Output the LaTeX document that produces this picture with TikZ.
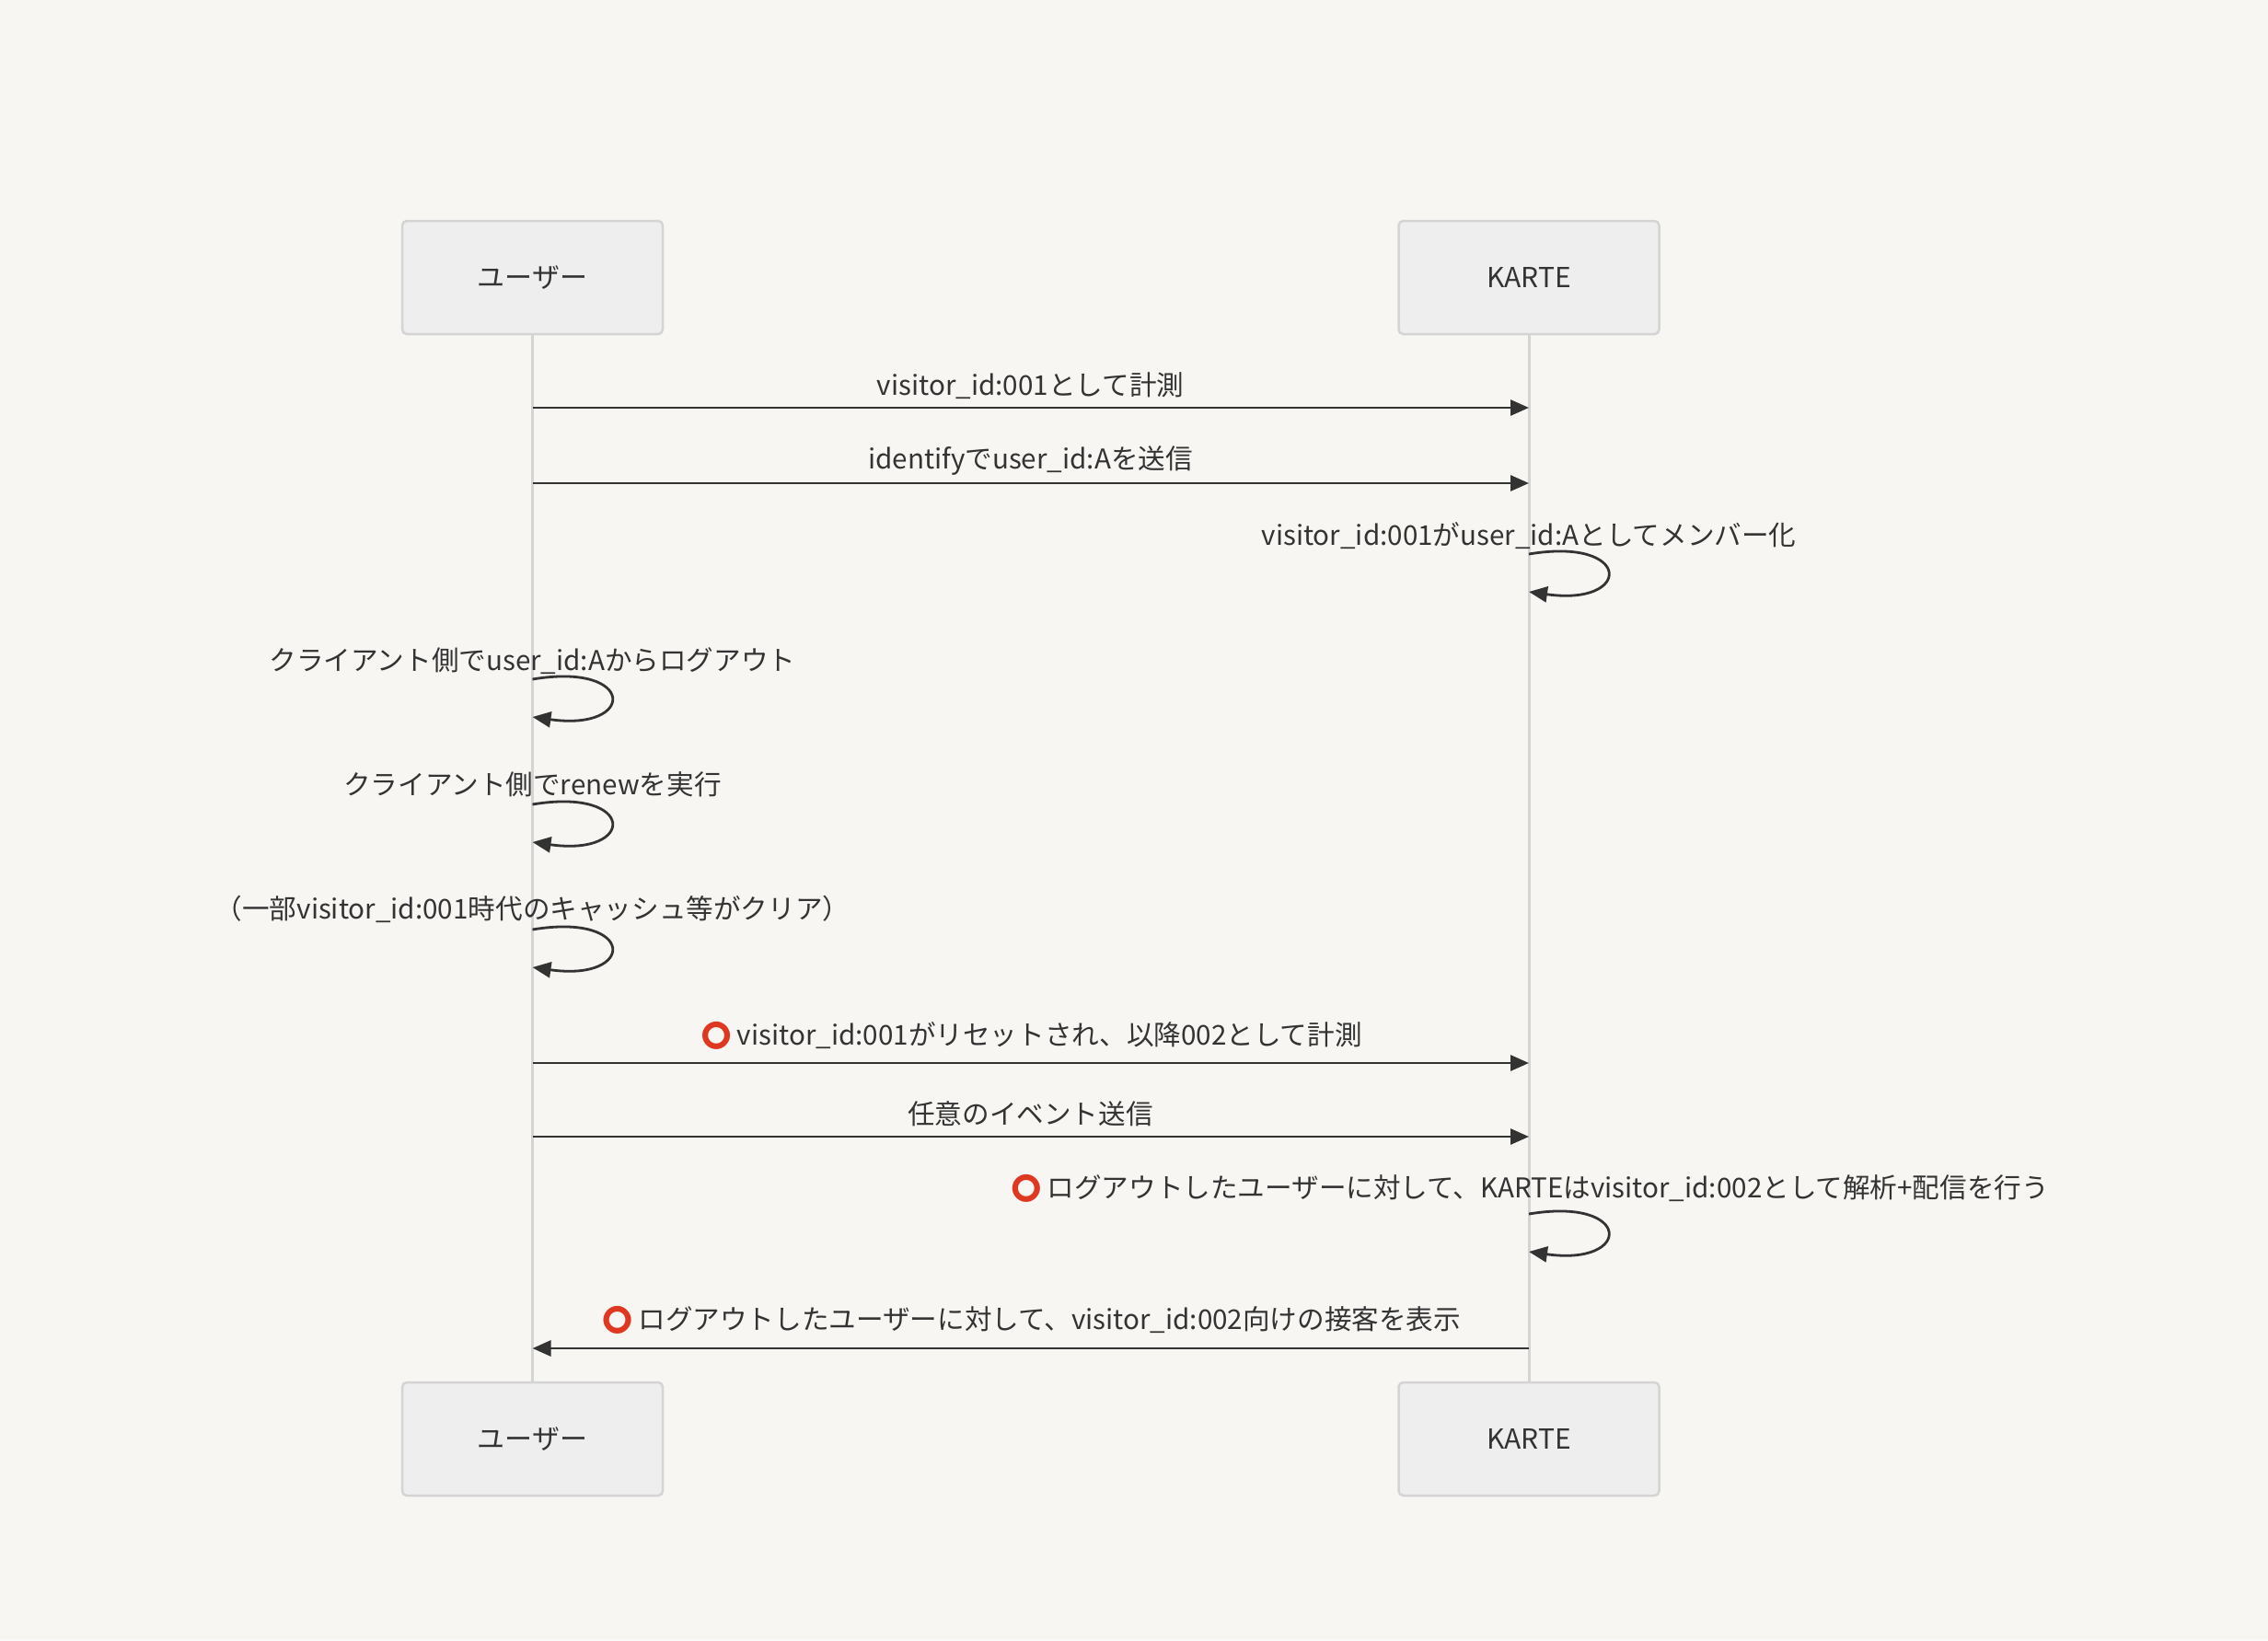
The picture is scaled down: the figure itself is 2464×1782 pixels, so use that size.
\documentclass[tikz,border=0pt]{standalone}
\usepackage{fontspec}
\setmainfont{Noto Sans CJK JP}
\newfontfamily\emojifont{Noto Emoji}
\usetikzlibrary{arrows.meta}
\definecolor{bgc}{HTML}{F7F6F3}
\definecolor{boxfill}{HTML}{EEEEEE}
\definecolor{boxline}{HTML}{D4D4D4}
\definecolor{ink}{HTML}{333333}
\definecolor{ringred}{RGB}{222,56,33}
\newcommand{\ring}{{\emojifont\color{ringred}⭕}\hspace{4pt}}
\newcommand{\actortext}[1]{\raisebox{-3pt}{#1}}
\tikzset{
  actor/.style={draw=boxline, fill=boxfill, line width=2.5pt, rounded corners=5pt,
    minimum width=283pt, minimum height=123pt, text=ink, font=\fontsize{30}{36}\selectfont},
  lifeline/.style={draw=boxline, line width=3pt},
  msg/.style={draw=ink, line width=2.8pt, -{Triangle[length=20pt,width=17pt]}},
  lbl/.style={text=ink, font=\fontsize{29.6}{36}\selectfont, inner sep=0pt, anchor=base}
}
\begin{document}
\begin{tikzpicture}[x=1pt,y=-1pt]
\fill[bgc] (0,0) rectangle (2464,1782);
\useasboundingbox (0,0) rectangle (2464,1782);
% actors
\node[actor] (u1) at (578.5,301.5) {\actortext{ユーザー}};
\node[actor] (k1) at (1661,301.5) {\actortext{KARTE}};
\node[actor] (u2) at (578.5,1563.5) {\actortext{ユーザー}};
\node[actor] (k2) at (1661,1563.5) {\actortext{KARTE}};
\draw[lifeline] (u1.south) -- (u2.north);
\draw[lifeline] (k1.south) -- (k2.north);
% endpoints
\coordinate (a1) at (578.5,443);  \coordinate (b1) at (1661,443);
\coordinate (a2) at (578.5,525);  \coordinate (b2) at (1661,525);
\coordinate (c3) at (1661,602);   \coordinate (d3) at (1661,643);
\coordinate (c4) at (578.5,738);  \coordinate (d4) at (578.5,779);
\coordinate (c5) at (578.5,874);  \coordinate (d5) at (578.5,915);
\coordinate (c6) at (578.5,1010); \coordinate (d6) at (578.5,1051);
\coordinate (a7) at (578.5,1155); \coordinate (b7) at (1661,1155);
\coordinate (a8) at (578.5,1235); \coordinate (b8) at (1661,1235);
\coordinate (c9) at (1661,1319);  \coordinate (d9) at (1661,1360);
\coordinate (a10) at (578.5,1465); \coordinate (b10) at (1661,1465);
% messages
\draw[msg] (a1) -- (b1);
\draw[msg] (a2) -- (b2);
\draw[msg] (c3) .. controls +(113,-19) and +(113,16) .. (d3);
\draw[msg] (c4) .. controls +(113,-19) and +(113,16) .. (d4);
\draw[msg] (c5) .. controls +(113,-19) and +(113,16) .. (d5);
\draw[msg] (c6) .. controls +(113,-19) and +(113,16) .. (d6);
\draw[msg] (a7) -- (b7);
\draw[msg] (a8) -- (b8);
\draw[msg] (c9) .. controls +(113,-19) and +(113,16) .. (d9);
\draw[msg] (b10) -- (a10);
% labels
\node[lbl] (l1) at (1119.5,429) {visitor\_id:001として計測};
\node[lbl] (l2) at (1119.5,509) {identifyでuser\_id:Aを送信};
\node[lbl] (l3) at (1661,592) {visitor\_id:001がuser\_id:Aとしてメンバー化};
\node[lbl] (l4) at (578.5,728) {クライアント側でuser\_id:Aからログアウト};
\node[lbl] (l5) at (578.5,863) {クライアント側でrenewを実行};
\node[lbl] (l6) at (578.5,998) {（一部visitor\_id:001時代のキャッシュ等がクリア）};
\node[lbl] (l7) at (1119.5,1135) {\ring visitor\_id:001がリセットされ、以降002として計測};
\node[lbl] (l8) at (1119.5,1221) {任意のイベント送信};
\node[lbl] (l9) at (1661,1301) {\ring ログアウトしたユーザーに対して、KARTEはvisitor\_id:002として解析+配信を行う};
\node[lbl] (l10) at (1119.5,1444) {\ring ログアウトしたユーザーに対して、visitor\_id:002向けの接客を表示};
\end{tikzpicture}
\end{document}
